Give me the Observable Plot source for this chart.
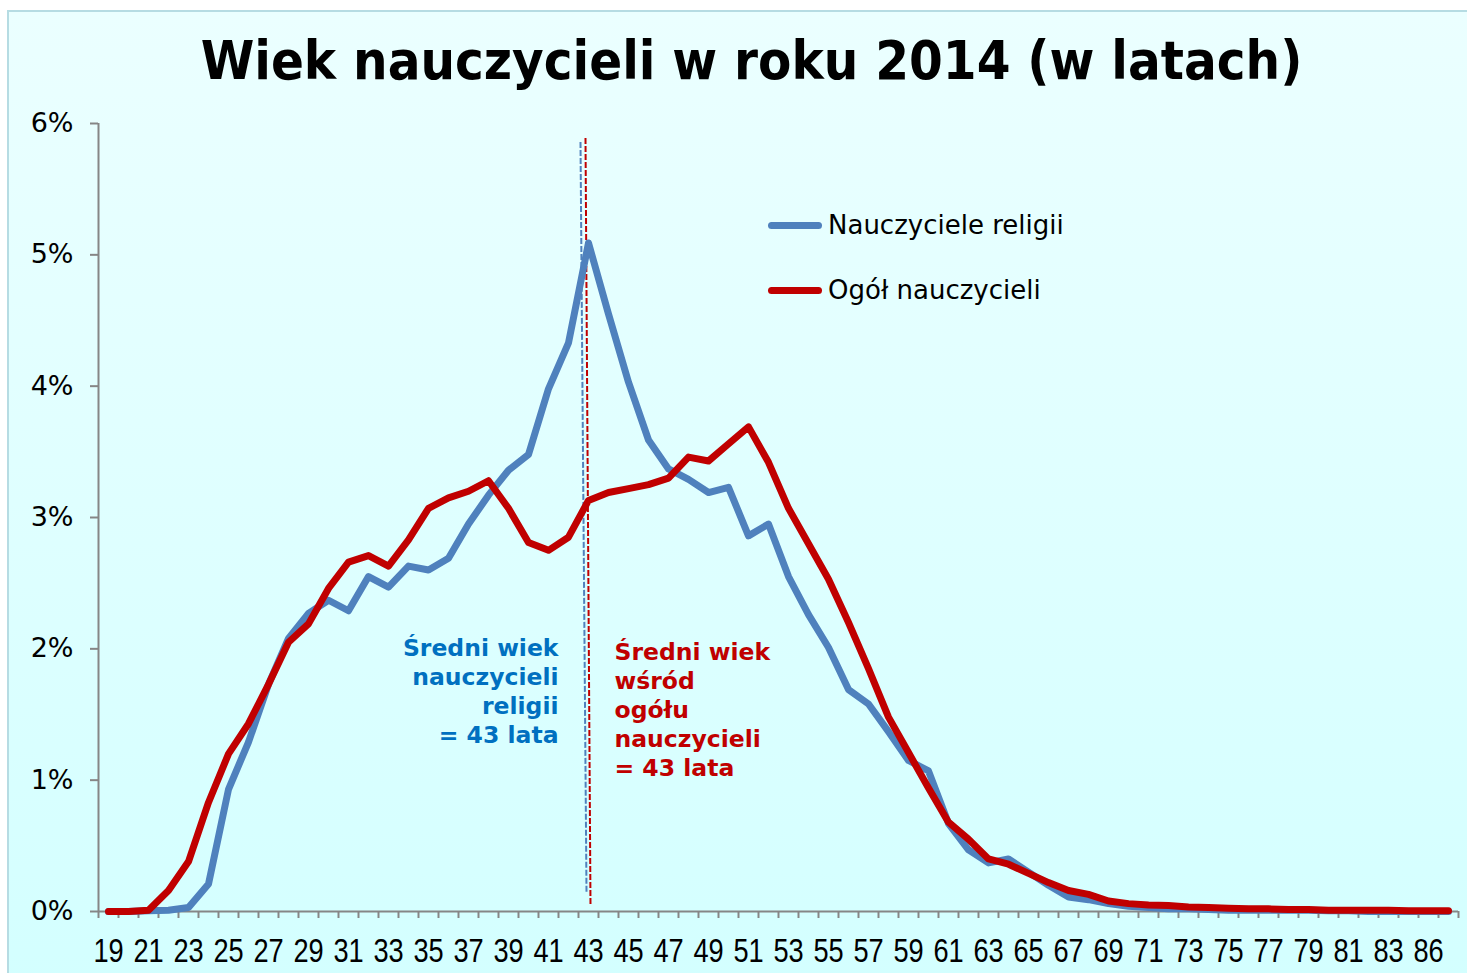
<!DOCTYPE html>
<html><head><meta charset="utf-8">
<script src="https://cdn.jsdelivr.net/npm/d3@7"></script>
<script src="https://cdn.jsdelivr.net/npm/@observablehq/plot@0.6"></script>
<style>
html,body{margin:0;padding:0;background:#fff;}
body{width:1467px;height:973px;overflow:hidden;position:relative;font-family:"DejaVu Sans",sans-serif;}
#frame{position:absolute;left:7px;top:10px;width:1480px;height:980px;border-top:2px solid #b6dce3;border-left:2px solid #b6dce3;background:linear-gradient(#ebffff,#d3ffff);}
#title{position:absolute;left:0;width:1503px;top:34px;text-align:center;font-family:"DejaVu Sans Condensed","DejaVu Sans",sans-serif;font-stretch:condensed;font-weight:bold;font-size:54px;line-height:1;color:#000;white-space:nowrap;}
.sw{position:absolute;left:768px;width:54px;height:7px;border-radius:4px;}
.lt{position:absolute;left:828px;height:26px;line-height:26px;font-size:26px;font-family:"DejaVu Sans",sans-serif;color:#000;white-space:nowrap;}
#chart{position:absolute;left:0;top:100px;}
.xlab text{font-family:"Liberation Sans",Arial,sans-serif;font-size:34px;}
</style>
</head><body>
<div id="frame"></div>
<div id="title">Wiek nauczycieli w roku 2014 (w latach)</div>
<div class="sw" style="top:222px;background:#4f81bd"></div>
<div class="lt" style="top:212px">Nauczyciele religii</div>
<div class="sw" style="top:287px;background:#c00000"></div>
<div class="lt" style="top:277px">Ogół nauczycieli</div>
<div id="chart"></div>
<script>
// Categories (age in years) — 85 is absent in the source chart
const ages = [19,20,21,22,23,24,25,26,27,28,29,30,31,32,33,34,35,36,37,38,39,40,41,42,43,44,45,46,47,48,49,50,51,52,53,54,55,56,57,58,59,60,61,62,63,64,65,66,67,68,69,70,71,72,73,74,75,76,77,78,79,80,81,82,83,84,86,87];
// Share of teachers (%) — Nauczyciele religii
const religia = [0,0,0.005,0.01,0.03,0.21,0.93,1.29,1.73,2.08,2.27,2.37,2.29,2.55,2.47,2.63,2.60,2.69,2.95,3.17,3.36,3.48,3.98,4.33,5.09,4.55,4.03,3.59,3.37,3.29,3.19,3.23,2.86,2.95,2.55,2.26,2.01,1.69,1.58,1.37,1.15,1.07,0.67,0.47,0.37,0.40,0.30,0.20,0.11,0.09,0.06,0.04,0.03,0.02,0.02,0.015,0.01,0.01,0.01,0.01,0.01,0.005,0.005,0,0,0,0,0];
// Share of teachers (%) — Ogół nauczycieli
const ogol = [0,0,0.01,0.16,0.38,0.83,1.20,1.43,1.73,2.05,2.19,2.46,2.66,2.71,2.63,2.83,3.07,3.15,3.20,3.28,3.07,2.81,2.75,2.85,3.13,3.19,3.22,3.25,3.30,3.46,3.43,3.56,3.69,3.42,3.07,2.80,2.53,2.20,1.85,1.48,1.21,0.94,0.68,0.55,0.40,0.36,0.29,0.22,0.16,0.13,0.08,0.06,0.05,0.045,0.035,0.03,0.025,0.02,0.02,0.015,0.015,0.01,0.01,0.01,0.01,0.005,0.005,0.005];
// Y tick values (%)
const yTicks = [0,1,2,3,4,5,6];
// Mean-age reference lines (category-index position, % value)
const meanLines = [
  {series:"religia", xTop:23.6, xBottom:23.9, yTop:5.86, yBottom:0.14, color:"#4f81bd"},
  {series:"ogol", xTop:23.85, xBottom:24.1, yTop:5.89, yBottom:0.05, color:"#c00000"}
];
// Annotations
const notes = [
  {text:"Średni wiek\nnauczycieli\nreligii\n= 43 lata", x:22.5, y:1.683, color:"#0070c0", side:"end"},
  {text:"Średni wiek\nwśród\nogółu\nnauczycieli\n= 43 lata", x:25.3, y:1.545, color:"#c00000", side:"start"}
];

const idx = ages.map((a, i) => i);
const boundaries = [-0.5, ...idx.map(i => i + 0.5)];
const labelIdx = idx.filter(i => i % 2 === 0);

const chart = Plot.plot({
  width: 1467, height: 873,
  marginLeft: 98, marginRight: 9, marginTop: 23, marginBottom: 62,
  style: {background: "transparent", overflow: "visible"},
  x: {type: "linear", domain: [-0.5, ages.length - 0.5], axis: null},
  y: {domain: [0, 6], axis: null},
  marks: [
    Plot.axisY(yTicks, {tickSize: 8, tickPadding: 17, tickFormat: d => d + "%", stroke: "#868686", strokeWidth: 2, fill: "#000", fontSize: 27, fontFamily: "DejaVu Sans"}),
    Plot.axisX(boundaries, {tickSize: 7, tickFormat: () => "", stroke: "#868686", strokeWidth: 2}),
    Plot.axisX(labelIdx, {tickSize: 0, tickPadding: 26, tickFormat: i => String(ages[i]), fill: "#000", fontSize: 34, fontFamily: "Liberation Sans"}),
    Plot.ruleX([-0.5], {stroke: "#868686", strokeWidth: 2}),
    Plot.ruleY([0], {stroke: "#868686", strokeWidth: 2}),
    Plot.link(meanLines, {x1: "xTop", y1: "yTop", x2: "xBottom", y2: "yBottom", stroke: "color", strokeWidth: 2, strokeDasharray: "6,2"}),
    Plot.line(idx, {x: i => i, y: i => religia[i], stroke: "#4f81bd", strokeWidth: 7, strokeLinejoin: "round", strokeLinecap: "round"}),
    Plot.line(idx, {x: i => i, y: i => ogol[i], stroke: "#c00000", strokeWidth: 7, strokeLinejoin: "round", strokeLinecap: "round"}),
    Plot.text(notes.filter(d => d.side === "end"), {x: "x", y: "y", text: "text", fill: "color", textAnchor: "end", lineAnchor: "middle", lineHeight: 1.23, fontSize: 23.5, fontWeight: "bold", fontFamily: "DejaVu Sans"}),
    Plot.text(notes.filter(d => d.side === "start"), {x: "x", y: "y", text: "text", fill: "color", textAnchor: "start", lineAnchor: "middle", lineHeight: 1.23, fontSize: 23.5, fontWeight: "bold", fontFamily: "DejaVu Sans"})
  ]
});
// narrow (Arial Narrow-like) x tick labels
const ageStrings = new Set(ages.map(String));
d3.select(chart).selectAll("text").each(function() {
  if (ageStrings.has(this.textContent.trim()) && this.parentNode && this.parentNode.tagName === "g") {
    this.parentNode.classList.add("xlab");
    const t = this.getAttribute("transform") || "";
    this.setAttribute("transform", t + " scale(0.8,1)");
  }
});
document.getElementById("chart").appendChild(chart);
</script>
</body></html>
